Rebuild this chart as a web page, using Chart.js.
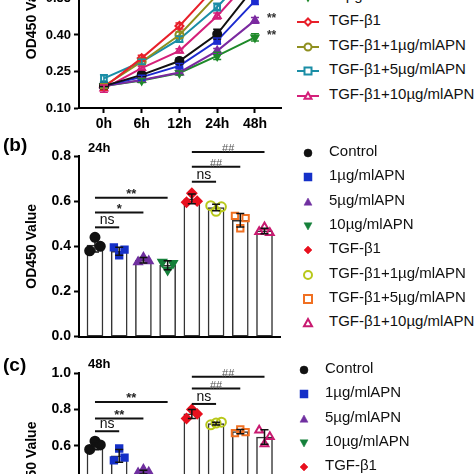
<!DOCTYPE html>
<html>
<head>
<meta charset="utf-8">
<script src="https://cdn.jsdelivr.net/npm/chart.js@4.4.1/dist/chart.umd.min.js"></script>
<style>
  html, body { margin: 0; padding: 0; background: #fff; }
  body { width: 474px; height: 474px; overflow: hidden; position: relative; font-family: "Liberation Sans", Arial, sans-serif; }
  canvas { position: absolute; left: 0; }
  .tag { position: absolute; font-weight: bold; color: #000; line-height: 1; }
  .leg { position: absolute; font-size: 15px; line-height: 18px; color: #111; white-space: nowrap; }
  .sym { position: absolute; }
</style>
</head>
<body>
<canvas id="chartA" width="290" height="230" style="top:-90px"></canvas>
<canvas id="chartB" width="290" height="220" style="top:128px"></canvas>
<canvas id="chartC" width="290" height="250" style="top:350px"></canvas>
<div class="tag" style="left:3px;top:135px;font-size:19px">(b)</div>
<div class="tag" style="left:88px;top:141px;font-size:13px">24h</div>
<div class="tag" style="left:3px;top:355px;font-size:19px">(c)</div>
<div class="tag" style="left:88px;top:357px;font-size:13px">48h</div>
<script>
const timeLabels = ["0h", "6h", "12h", "24h", "48h"];
const groupNames = ["Control", "1µg/mlAPN", "5µg/mlAPN", "10µg/mlAPN", "TGF-β1",
  "TGF-β1+1µg/mlAPN", "TGF-β1+5µg/mlAPN", "TGF-β1+10µg/mlAPN"];

// (a) OD450 over time
const odControl = [0.190, 0.236, 0.293, 0.404, 0.600];
const od1 = [0.192, 0.227, 0.273, 0.376, 0.540];
const od5 = [0.190, 0.215, 0.246, 0.335, 0.460];
const od10 = [0.190, 0.213, 0.244, 0.314, 0.390];
const odTgf = [0.185, 0.305, 0.437, 0.605, 0.775];
const odTgf1 = [0.190, 0.290, 0.400, 0.565, 0.720];
const odTgf5 = [0.222, 0.290, 0.383, 0.515, 0.680];
const odTgf10 = [0.180, 0.264, 0.335, 0.478, 0.650];
const sdControl = [0.015, 0.010, 0.012, 0.020, 0.025];
const sd1 = [0.010, 0.008, 0.010, 0.012, 0.015];
const sd5 = [0.008, 0.008, 0.008, 0.010, 0.012];
const sd10 = [0.008, 0.008, 0.008, 0.015, 0.015];
const sdTgf = [0.012, 0.012, 0.012, 0.015, 0.020];
const sdTgf1 = [0.010, 0.010, 0.012, 0.012, 0.015];
const sdTgf5 = [0.015, 0.010, 0.012, 0.015, 0.015];
const sdTgf10 = [0.015, 0.008, 0.008, 0.012, 0.020];
const marks48 = ["", "*", "**", "**", "", "", "", ""];

// (b) 24h
const mean24 = [0.405, 0.378, 0.338, 0.316, 0.610, 0.572, 0.515, 0.468];
const sd24 = [0.030, 0.018, 0.012, 0.020, 0.022, 0.014, 0.030, 0.012];
const dots24 = [[0.38, 0.44, 0.40], [0.395, 0.36, 0.385], [0.33, 0.35, 0.335], [0.33, 0.295, 0.325],
  [0.595, 0.635, 0.60], [0.58, 0.555, 0.575], [0.535, 0.48, 0.525], [0.465, 0.485, 0.46]];
const sig24Y = [0.484, 0.55, 0.615, 0.686, 0.752, 0.818];
const sig24Text = ["ns", "*", "**", "ns", "##", "##"];

// (c) 48h
const mean48 = [0.600, 0.545, 0.455, 0.400, 0.775, 0.722, 0.678, 0.648];
const sd48 = [0.022, 0.035, 0.010, 0.010, 0.025, 0.008, 0.012, 0.040];
const dots48 = [[0.58, 0.625, 0.605], [0.52, 0.585, 0.535], [0.45, 0.47, 0.455], [0.39, 0.41, 0.40],
  [0.75, 0.80, 0.775], [0.715, 0.725, 0.73], [0.67, 0.69, 0.675], [0.685, 0.61, 0.65]];
const sig48Y = [0.68, 0.75, 0.84, 0.83, 0.915, 0.98];
const sig48Text = ["ns", "**", "**", "ns", "##", "##"];

const sigFrom = [0, 0, 0, 4, 4, 4];
const sigTo = [1, 2, 3, 5, 6, 7];

// styles
const colorsA = ["#111111", "#1c2bd0", "#7b2aa0", "#1f8a2a", "#e8202a", "#8f8f1f", "#1b8ea6", "#d4207a"];
const colorsB = ["#111111", "#1530c8", "#7030a0", "#15803a", "#e8101e", "#b8c81a", "#f07022", "#c81a70"];
const shapes = ["circle", "rect", "triangle", "invtriangle", "rectRot", "circle", "rect", "triangle"];
const filledA = [true, true, true, true, false, false, false, false];
const filledB = [true, true, true, true, true, false, false, false];
const jitter = [-0.22, 0, 0.22];

Chart.defaults.font.family = '"Liberation Sans", Arial, sans-serif';
Chart.defaults.color = '#000';

function yAxis(min, max, step, digits, size) {
  return {
    min: min, max: max,
    afterFit: s => { s.width = 79; },
    ticks: { stepSize: step, padding: 3, font: { size: size, weight: 'bold' }, callback: v => v.toFixed(digits) },
    grid: { drawOnChartArea: false, tickLength: 5, tickColor: '#000', tickWidth: 2 },
    border: { color: '#000', width: 2 },
    title: { display: true, text: 'OD450 Value', font: { size: 14, weight: 'bold' }, padding: { top: 24, bottom: 0 } }
  };
}

function chartStyle(k, colors, filled) {
  return {
    pointStyle: shapes[k] === 'invtriangle' ? 'triangle' : shapes[k],
    rotation: shapes[k] === 'invtriangle' ? 180 : 0,
    pointRotation: shapes[k] === 'invtriangle' ? 180 : 0,
    borderColor: colors[k],
    backgroundColor: filled[k] ? colors[k] : 'rgba(255,255,255,0)',
  };
}

// error bars for line series
const lineErrors = {
  id: 'lineErrors',
  afterDatasetsDraw(chart) {
    const { ctx, scales: { y } } = chart;
    ctx.save();
    chart.data.datasets.forEach((ds, k) => {
      const meta = chart.getDatasetMeta(k);
      ctx.strokeStyle = ds.borderColor;
      ctx.lineWidth = 1.5;
      ds.data.forEach((p, i) => {
        const x = meta.data[i].x;
        const t = y.getPixelForValue(p.y + ds.err[i]);
        const b = y.getPixelForValue(p.y - ds.err[i]);
        ctx.beginPath();
        ctx.moveTo(x, t); ctx.lineTo(x, b);
        ctx.moveTo(x - 4, t); ctx.lineTo(x + 4, t);
        ctx.moveTo(x - 4, b); ctx.lineTo(x + 4, b);
        ctx.stroke();
      });
      if (ds.mark) {
        const last = meta.data[meta.data.length - 1];
        ctx.fillStyle = '#333';
        ctx.font = 'bold 12px "Liberation Sans", Arial';
        ctx.textBaseline = 'middle';
        ctx.fillText(ds.mark, last.x + 12, last.y - 2);
      }
    });
    ctx.restore();
  }
};

const seriesA = [odControl, od1, od5, od10, odTgf, odTgf1, odTgf5, odTgf10];
const errA = [sdControl, sd1, sd5, sd10, sdTgf, sdTgf1, sdTgf5, sdTgf10];

new Chart(document.getElementById('chartA'), {
  type: 'line',
  data: {
    datasets: seriesA.map((vals, k) => Object.assign({
      label: groupNames[k],
      data: vals.map((v, i) => ({ x: i, y: v })),
      err: errA[k],
      mark: marks48[k],
      borderWidth: 2,
      pointRadius: 4,
      pointBorderWidth: 2,
      tension: 0,
    }, chartStyle(k, colorsA, filledA)))
  },
  options: {
    responsive: false,
    animation: false,
    layout: { padding: { top: 15.5, right: 9, left: 0, bottom: 0 } },
    plugins: { legend: { display: false }, tooltip: { enabled: false } },
    scales: {
      x: {
        type: 'linear', min: -0.66, max: 4.69, offset: false,
        afterFit: s => { s.height = 32; },
        afterBuildTicks: s => { s.ticks = timeLabels.map((t, i) => ({ value: i })); },
        ticks: { padding: 3, font: { size: 14, weight: 'bold' }, callback: v => timeLabels[v] },
        grid: { drawOnChartArea: false, tickLength: 5, tickColor: '#000', tickWidth: 2 },
        border: { color: '#000', width: 2 }
      },
      y: yAxis(0.10, 0.85, 0.15, 2, 13)
    }
  },
  plugins: [lineErrors]
});

function makeBarExtras(means, sds, sigY, sigText) {
  return {
    id: 'barExtras',
    afterDatasetsDraw(chart) {
      const { ctx, scales: { x, y } } = chart;
      ctx.save();
      ctx.strokeStyle = '#111';
      ctx.lineWidth = 1.5;
      means.forEach((m, i) => {
        const px = x.getPixelForValue(i);
        const t = y.getPixelForValue(m + sds[i]);
        const b = y.getPixelForValue(m - sds[i]);
        ctx.beginPath();
        ctx.moveTo(px, t); ctx.lineTo(px, b);
        ctx.moveTo(px - 4, t); ctx.lineTo(px + 4, t);
        ctx.moveTo(px - 4, b); ctx.lineTo(px + 4, b);
        ctx.stroke();
      });
      ctx.lineWidth = 2;
      ctx.textAlign = 'center';
      ctx.textBaseline = 'bottom';
      sigY.forEach((v, k) => {
        const x1 = x.getPixelForValue(sigFrom[k]);
        const x2 = x.getPixelForValue(sigTo[k]);
        const py = y.getPixelForValue(v);
        ctx.strokeStyle = '#111';
        ctx.beginPath();
        ctx.moveTo(x1, py); ctx.lineTo(x2, py);
        ctx.stroke();
        const s = sigText[k];
        if (s === 'ns') { ctx.font = '14px "Liberation Sans", Arial'; ctx.fillStyle = '#111'; }
        else if (s[0] === '#') { ctx.font = '11px "Liberation Sans", Arial'; ctx.fillStyle = '#555'; }
        else { ctx.font = 'bold 13px "Liberation Sans", Arial'; ctx.fillStyle = '#222'; }
        ctx.fillText(s, (x1 + x2) / 2, py + (s === 'ns' ? 0 : 3));
      });
      ctx.restore();
    }
  };
}

function barChart(id, means, sds, dots, yMax, padTop, xHeight, sigY, sigText) {
  const datasets = [{
    type: 'bar',
    data: means.map((v, i) => ({ x: i, y: v })),
    backgroundColor: '#fff',
    borderColor: '#333',
    borderWidth: 1.5,
    borderSkipped: false,
    barThickness: 16,
    order: 3
  }];
  dots.forEach((reps, i) => {
    datasets.push(Object.assign({
      type: 'scatter',
      data: reps.map((v, j) => ({ x: i + jitter[j], y: v })),
      pointRadius: 4.5,
      borderWidth: 2,
      order: 1
    }, chartStyle(i, colorsB, filledB)));
  });
  new Chart(document.getElementById(id), {
    type: 'bar',
    data: { datasets: datasets },
    options: {
      responsive: false,
      animation: false,
      layout: { padding: { top: padTop, right: 10, left: 0, bottom: 0 } },
      plugins: { legend: { display: false }, tooltip: { enabled: false } },
      scales: {
        x: {
          type: 'linear', min: -0.66, max: 7.64, offset: false,
          afterFit: s => { s.height = xHeight; },
          ticks: { display: false },
          grid: { display: false, offset: false },
          border: { color: '#000', width: 2 }
        },
        y: yAxis(0, yMax, 0.2, 1, 14)
      }
    },
    plugins: [makeBarExtras(means, sds, sigY, sigText)]
  });
}

barChart('chartB', mean24, sd24, dots24, 0.8, 28, 10, sig24Y, sig24Text);
barChart('chartC', mean48, sd48, dots48, 1.0, 23, 45, sig48Y, sig48Text);

// legends
function shapeSvg(shape, cx, cy, r) {
  if (shape === 'circle') return `<circle cx="${cx}" cy="${cy}" r="${r}"/>`;
  if (shape === 'rect') return `<rect x="${cx - r}" y="${cy - r}" width="${2 * r}" height="${2 * r}"/>`;
  if (shape === 'triangle') return `<polygon points="${cx},${cy - r} ${cx + r},${cy + r * 0.8} ${cx - r},${cy + r * 0.8}"/>`;
  if (shape === 'invtriangle') return `<polygon points="${cx},${cy + r} ${cx + r},${cy - r * 0.8} ${cx - r},${cy - r * 0.8}"/>`;
  return `<polygon points="${cx},${cy - r} ${cx + r},${cy} ${cx},${cy + r} ${cx - r},${cy}"/>`;
}

function addLegend(firstY, step, symX, textX, colors, filled, withLine) {
  groupNames.forEach((name, k) => {
    const cy = firstY + k * step;
    const w = withLine ? 24 : 12;
    const c = colors[k];
    const fill = filled[k] ? c : '#fff';
    const sym = document.createElement('div');
    sym.className = 'sym';
    sym.style.left = (symX - w / 2) + 'px';
    sym.style.top = (cy - 6) + 'px';
    sym.innerHTML = `<svg width="${w}" height="12" viewBox="0 0 ${w} 12">` +
      (withLine ? `<line x1="1" y1="6" x2="${w - 1}" y2="6" stroke="${c}" stroke-width="2"/>` : '') +
      `<g fill="${fill}" stroke="${c}" stroke-width="${filled[k] ? 0.5 : 2}">` +
      shapeSvg(shapes[k], w / 2, 6, withLine ? 3.5 : 4) + `</g></svg>`;
    document.body.appendChild(sym);
    const t = document.createElement('div');
    t.className = 'leg';
    t.style.left = textX + 'px';
    t.style.top = (cy - 9) + 'px';
    t.textContent = name;
    document.body.appendChild(t);
  });
}

addLegend(20 - 4 * 24.7, 24.7, 307.5, 329, colorsA, filledA.map(() => false), true);
addLegend(151, 24.3, 308, 329, colorsB, filledB, false);
addLegend(368, 24.3, 304, 325, colorsB, filledB, false);
</script>
</body>
</html>
